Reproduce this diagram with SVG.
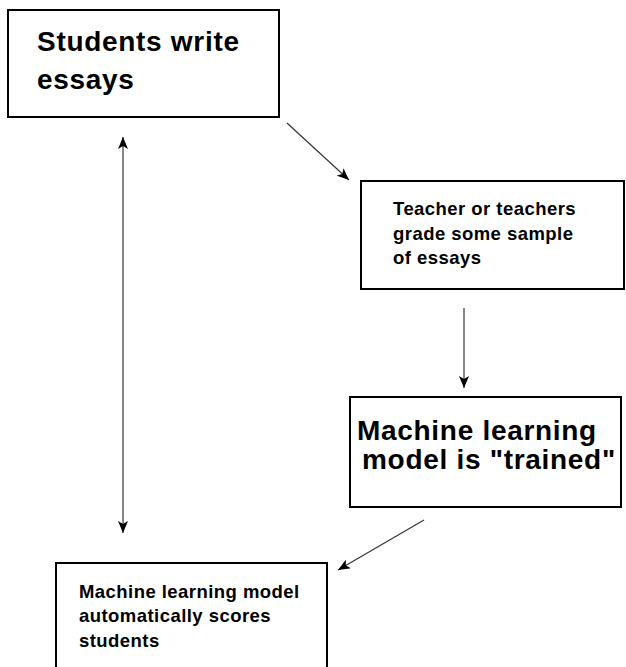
<svg xmlns="http://www.w3.org/2000/svg" width="626" height="667" viewBox="0 0 626 667">
<style>
.box{fill:#fff;stroke:#000;stroke-width:2}
.t{font-family:"Liberation Sans",Arial,sans-serif;font-weight:bold;fill:#000}
.big{font-size:28px;letter-spacing:0.7px}
.small{font-size:18.5px;letter-spacing:0.45px}
.c{stroke:#333;stroke-width:1.2;fill:none}
</style>
<defs>
<marker id="ah" viewBox="0 0 12 10" refX="12" refY="5" markerWidth="12" markerHeight="10" markerUnits="userSpaceOnUse" orient="auto-start-reverse">
<path d="M0,0 L12,5 L0,10 L3,5 Z" fill="#000"/>
</marker>
</defs>
<rect width="626" height="667" fill="#fff"/>
<g id="connectors">
<line class="c" x1="287" y1="123" x2="349" y2="180" marker-end="url(#ah)"/>
<line class="c" x1="464" y1="308" x2="464" y2="388" marker-end="url(#ah)"/>
<line class="c" x1="424" y1="520" x2="338" y2="570" marker-end="url(#ah)"/>
<line class="c" x1="123" y1="137" x2="123" y2="533" marker-start="url(#ah)" marker-end="url(#ah)"/>
</g>
<g id="students">
<rect class="box" x="8" y="10" width="271" height="107"/>
<text class="t big" x="37" y="51">Students write</text>
<text class="t big" x="37" y="89">essays</text>
</g>
<g id="teacher">
<rect class="box" x="361" y="181" width="263" height="108"/>
<text class="t small" x="393" y="215">Teacher or teachers</text>
<text class="t small" x="393" y="240">grade some sample</text>
<text class="t small" x="393" y="264">of essays</text>
</g>
<g id="trained">
<rect class="box" x="350" y="397" width="271" height="110"/>
<text class="t big" x="357" y="440">Machine learning</text>
<text class="t big" x="362" y="469">model is "trained"</text>
</g>
<g id="scores">
<rect class="box" x="56" y="563" width="271" height="110"/>
<text class="t small" x="79" y="598">Machine learning model</text>
<text class="t small" x="79" y="622">automatically scores</text>
<text class="t small" x="79" y="647">students</text>
</g>
</svg>
